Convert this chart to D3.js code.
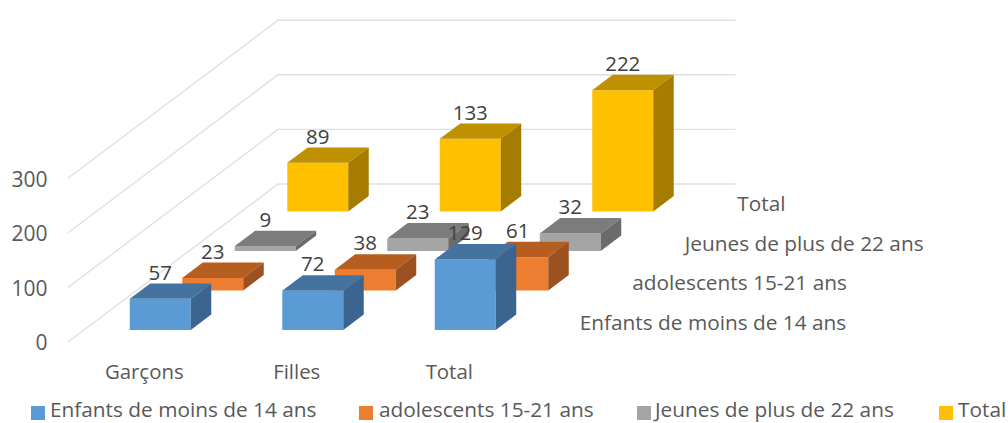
<!DOCTYPE html>
<html><head><meta charset="utf-8">
<script src="https://cdnjs.cloudflare.com/ajax/libs/d3/7.9.0/d3.min.js"></script>
<style>
html,body{margin:0;padding:0;background:#fff}
svg{display:block}
text{font-family:"Open Sans",sans-serif}
</style></head><body>
<svg id="c" width="1008" height="423"></svg>
<script>
const categories = ["Garçons", "Filles", "Total"];
const seriesNames = ["Enfants de moins de 14 ans", "adolescents 15-21 ans", "Jeunes de plus de 22 ans", "Total"];
const enfants = [57, 72, 129];
const adolescents = [23, 38, 61];
const jeunes = [9, 23, 32];
const totaux = [89, 133, 222];
const yTicks = [0, 100, 200, 300];
const seriesValues = [enfants, adolescents, jeunes, totaux];

const faceColors = ["#5B9BD5", "#ED7D31", "#A5A5A5", "#FFC000"];
const topColors = ["#44739F", "#B65E20", "#7C7C7C", "#BF9000"];
const sideColors = ["#3B6590", "#9C5120", "#6B6B6B", "#A67C00"];
const legendSwatchX = [31, 359, 637, 939];
const legendTextX = [50, 379, 655, 958];

const svg = d3.select("#c");
const gridColor = "#E0E0E0", textColor = "#595959", labelColor = "#404040";

const x0 = 68, y0 = 342, depthX = 210, depthY = -158, plotW = 457.5;
const x = d3.scaleBand().domain(categories).range([0, plotW]).paddingInner(0.6).paddingOuter(0.3);
const y = d3.scaleLinear().domain([0, 300]).range([y0, y0 - 163.8]);
const z = d3.scaleBand().domain(seriesNames).range([0, 1]).paddingInner(0.61).paddingOuter(0.305);
const zx = t => t * depthX, zy = t => t * depthY;

// walls
const grid = svg.append("g");
yTicks.forEach(v => {
  grid.append("path")
    .attr("d", d3.line()([[x0, y(v)], [x0 + depthX, y(v) + depthY], [x0 + depthX + plotW, y(v) + depthY]]))
    .attr("fill", "none").attr("stroke", gridColor).attr("stroke-width", 1.4);
});

// value axis
const axisG = svg.append("g").attr("transform", "translate(47.5,0)")
  .call(d3.axisLeft(y).tickValues(yTicks).tickSize(0).tickPadding(0));
axisG.select(".domain").remove();
axisG.selectAll("text").attr("font-family", '"Open Sans",sans-serif').attr("font-size", 21).attr("fill", textColor)
  .attr("dy", "0.35em").attr("y", 0.5);

// bars, back row first
const bars = svg.append("g");
const labels = svg.append("g");
d3.range(seriesNames.length - 1, -1, -1).forEach(si => {
  const name = seriesNames[si], t0 = z(name), t1 = t0 + z.bandwidth();
  const ddx = zx(t1) - zx(t0), ddy = zy(t1) - zy(t0);
  categories.forEach((cat, ci) => {
    const v = seriesValues[si][ci];
    const l = x0 + x(cat) + zx(t0), r = l + x.bandwidth();
    const b = y(0) + zy(t0), top = y(v) + zy(t0);
    const g = bars.append("g");
    g.append("polygon").attr("fill", faceColors[si])
      .attr("points", [[l, b], [r, b], [r, top], [l, top]].join(" "));
    g.append("polygon").attr("fill", topColors[si])
      .attr("points", [[l, top], [r, top], [r + ddx, top + ddy], [l + ddx, top + ddy]].join(" "));
    g.append("polygon").attr("fill", sideColors[si])
      .attr("points", [[r, b], [r + ddx, b + ddy], [r + ddx, top + ddy], [r, top]].join(" "));
    labels.append("text").attr("x", (l + r) / 2).attr("y", top + ddy - 11).attr("dy", "0.35em")
      .attr("text-anchor", "middle").attr("font-size", 20.5).attr("fill", labelColor).text(v);
  });
});
bars.raise(); labels.raise();

// category labels
svg.append("g").selectAll("text").data(categories).join("text")
  .attr("x", d => x0 + x(d) + x.bandwidth() / 2).attr("y", y0 + 30).attr("dy", "0.35em")
  .attr("text-anchor", "middle").attr("font-size", 20.4).attr("fill", textColor).text(d => d);

// series labels along the depth axis
svg.append("g").selectAll("text").data(seriesNames).join("text")
  .attr("x", d => x0 + plotW + zx(z(d) + z.bandwidth() / 2) + 28)
  .attr("y", d => y0 + zy(z(d) + z.bandwidth() / 2)).attr("dy", "0.35em")
  .attr("font-size", 20.8).attr("fill", textColor).text(d => d);

// legend
const legend = svg.append("g");
seriesNames.forEach((d, i) => {
  legend.append("rect").attr("x", legendSwatchX[i]).attr("y", 406).attr("width", 14).attr("height", 14).attr("fill", faceColors[i]);
  legend.append("text").attr("x", legendTextX[i]).attr("y", 417.2)
    .attr("font-size", 20.8).attr("fill", textColor).text(d);
});
</script>
</body></html>
